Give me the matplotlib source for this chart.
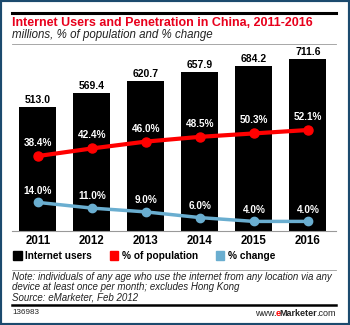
import matplotlib
matplotlib.use('Agg')
import matplotlib.pyplot as plt
from matplotlib.lines import Line2D
from matplotlib.patches import Rectangle, Patch
from matplotlib.offsetbox import TextArea, HPacker, AnchoredOffsetbox

# data
years = ['2011', '2012', '2013', '2014', '2015', '2016']
users = [513.0, 569.4, 620.7, 657.9, 684.2, 711.6]
pct_population = [38.4, 42.4, 46.0, 48.5, 50.3, 52.1]
pct_change = [14.0, 11.0, 9.0, 6.0, 4.0, 4.0]

RED = '#ff0000'
BLUE = '#6aaed0'
TITLE_RED = '#e8001c'
FRAME = '#1c4a6e'

W, H = 350, 325
plt.rcParams['font.family'] = ['Liberation Sans', 'DejaVu Sans']

fig = plt.figure(figsize=(W / 100, H / 100), dpi=100)

def fx(px):
  return px / W

def fy(py):
  return 1 - py / H

# main axes: baseline at y=231px, top at y=50px
ax = fig.add_axes([fx(12), fy(231), fx(336) - fx(12), fy(50) - fy(231)])
x = list(range(len(years)))
ax.bar(x, users, width=0.685, color='black', zorder=2)
ax.set_xlim(-0.481, 5.52)
ax.set_ylim(0, 749)
for i, v in enumerate(users):
  ax.text(i, v + 8, '%.1f' % v, ha='center', va='bottom', fontsize=7.5,
          fontweight='bold', color='black')
for s in ['top', 'right', 'left']:
  ax.spines[s].set_visible(False)
ax.spines['bottom'].set_color('#999999')
ax.spines['bottom'].set_linewidth(0.8)
ax.set_yticks([])
ax.set_xticks(x)
ax.set_xticklabels(years, fontsize=8.3, fontweight='bold')
ax.tick_params(axis='x', length=0, pad=3)

# percent axis shares the baseline
ax2 = ax.twinx()
ax2.set_ylim(-1.05, 94.2)
ax2.axis('off')
ax2.plot(x, pct_population, color=RED, lw=3, marker='o', ms=6.5, zorder=3)
ax2.plot(x, pct_change, color=BLUE, lw=2.5, marker='o', ms=6, zorder=3)
for i in x:
  ax2.text(i, pct_population[i] + 4.2, '%.1f%%' % pct_population[i], ha='center',
           va='bottom', color='white', fontsize=7.2, fontweight='bold')
  ax2.text(i, pct_change[i] + 3.5, '%.1f%%' % pct_change[i], ha='center',
           va='bottom', color='white', fontsize=7.2, fontweight='bold')

# legend
handles = [Patch(color='black', label='Internet users'),
           Patch(color=RED, label='% of population'),
           Patch(color=BLUE, label='% change')]
fig.legend(handles=handles, loc='center left', bbox_to_anchor=(fx(4), fy(256)),
           ncol=3, frameon=False, handlelength=0.85, handleheight=0.85,
           handletextpad=0.35, columnspacing=1.75,
           prop={'size': 7.3, 'weight': 'bold'})

# header
fig.add_artist(Line2D([fx(12), fx(336)], [fy(13), fy(13)], color='black', lw=2.2))
fig.text(fx(12), fy(23), 'Internet Users and Penetration in China, 2011-2016',
         color=TITLE_RED, fontsize=9, fontweight='bold', va='center')
fig.text(fx(12), fy(35), 'millions, % of population and % change',
         fontsize=8.3, style='italic', va='center', color='#222222')
fig.add_artist(Line2D([fx(12), fx(336)], [fy(44), fy(44)], color='#999999', lw=0.6))

# footer
fig.add_artist(Line2D([fx(12), fx(336)], [fy(270), fy(270)], color='#999999', lw=0.6))
note = ('Note: individuals of any age who use the internet from any location via any\n'
        'device at least once per month; excludes Hong Kong\n'
        'Source: eMarketer, Feb 2012')
fig.text(fx(12), fy(271.5), note, fontsize=7, style='italic', va='top',
         linespacing=1.08, color='#222222')
fig.add_artist(Line2D([fx(12), fx(336)], [fy(305), fy(305)], color='black', lw=1.8))
fig.text(fx(12), fy(313), '136983', fontsize=5.8, va='center', color='#222222')

# www.eMarketer.com
parts = []
for part, col, wt in [('www.', '#222222', 'normal'), ('e', RED, 'bold'),
                      ('Marketer', '#222222', 'bold'), ('.com', '#222222', 'normal')]:
  parts.append(TextArea(part, textprops=dict(fontsize=6.5, color=col, fontweight=wt)))
box = HPacker(children=parts, align='baseline', pad=0, sep=-0.6)
anch = AnchoredOffsetbox(loc='center right', child=box, pad=0, borderpad=0, frameon=False,
                         bbox_to_anchor=(fx(336), fy(313)), bbox_transform=fig.transFigure)
fig.add_artist(anch)

# frame
fig.add_artist(Rectangle((0, 0), 1, 1, transform=fig.transFigure, fill=False,
                         edgecolor=FRAME, lw=3))

fig.savefig('out.png', dpi=100)
